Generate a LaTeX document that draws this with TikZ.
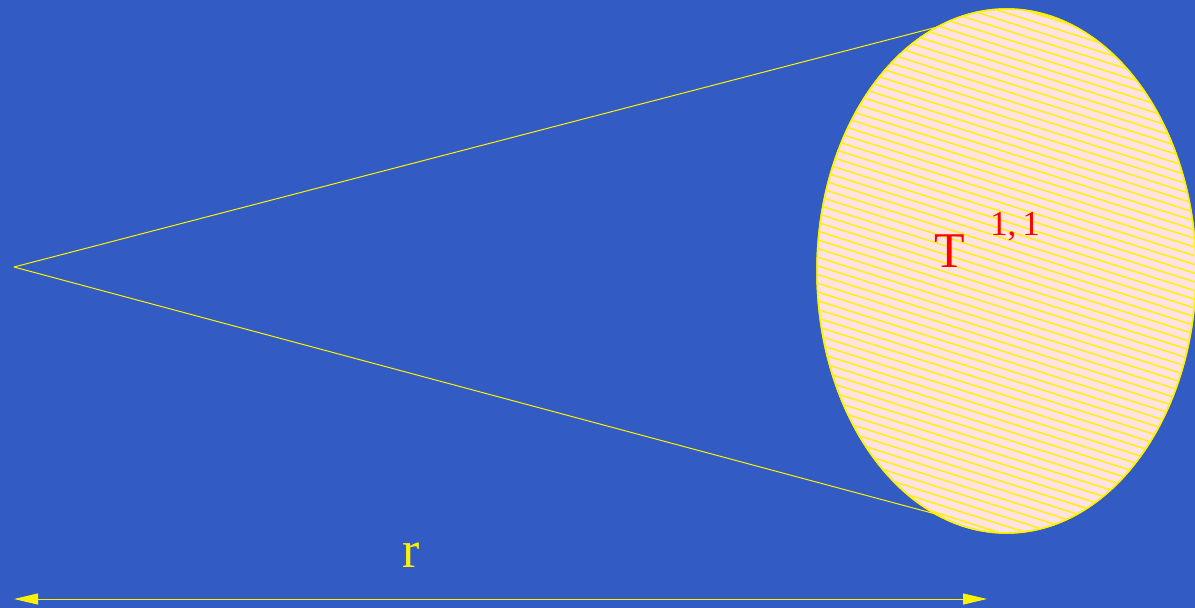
\documentclass[tikz,border=0pt]{standalone}
\usepackage{fontspec}
\setmainfont{Liberation Serif}
\usetikzlibrary{arrows.meta, positioning, calc, shapes.geometric}

\definecolor{bgblue}{RGB}{50,92,196}
\definecolor{hatchpink}{RGB}{255,226,226}

\begin{document}
\begin{tikzpicture}[
    x=1pt, y=-1pt,
    coneline/.style={draw=yellow, line width=1pt},
    torusbox/.style={
        ellipse, draw=yellow, line width=1.5pt, fill=hatchpink,
        minimum width=379pt, minimum height=524pt, inner sep=0pt
    },
    hatch/.style={draw=yellow, line width=1.4pt},
    arrow/.style={{Triangle[length=24pt, width=11pt]}-{Triangle[length=24pt, width=11pt]},
        draw=yellow, fill=yellow, line width=1pt}
]

% --- background ---
\fill[bgblue] (0,0) rectangle (1195,608);
\useasboundingbox (0,0) rectangle (1195,608);

% --- apex of the cone ---
\coordinate (apex) at (14,267);

% --- cone edges (under the base) ---
\coordinate (ctop) at (1006.5,9);
\coordinate (cbot) at (1006.5,533);
\draw[coneline] (apex) -- (ctop);
\draw[coneline] (apex) -- (cbot);

% --- the T11 base ---
\node[torusbox] (torus) at (1006.5,271) {};
\begin{scope}
    \clip (torus.center) ellipse [x radius=188.5pt, y radius=261pt];
    \foreach \k in {-20,...,75}
        \draw[hatch] (800, {-140 + 8.7*\k}) -- (1210, {-140 + 8.7*\k + 131});
\end{scope}
\draw[yellow, line width=1.5pt] (torus.center) ellipse [x radius=189.5pt, y radius=262pt];

\node[text=red, font=\fontsize{50}{54}\selectfont, anchor=base west, inner sep=0pt]
    (tlabel) at (934,267) {T};
\node[text=red, font=\fontsize{35}{38}\selectfont, anchor=base west, inner sep=0pt]
    (tsup) at (990,235) {1,\,1};

% --- distance r ---
\coordinate (rleft) at (14,599);
\coordinate (rright) at (987,599);
\draw[arrow] (rleft) -- (rright);
\node[text=yellow, font=\fontsize{52}{56}\selectfont, anchor=base, inner sep=0pt]
    (rlabel) at (411,567) {r};

\end{tikzpicture}
\end{document}
